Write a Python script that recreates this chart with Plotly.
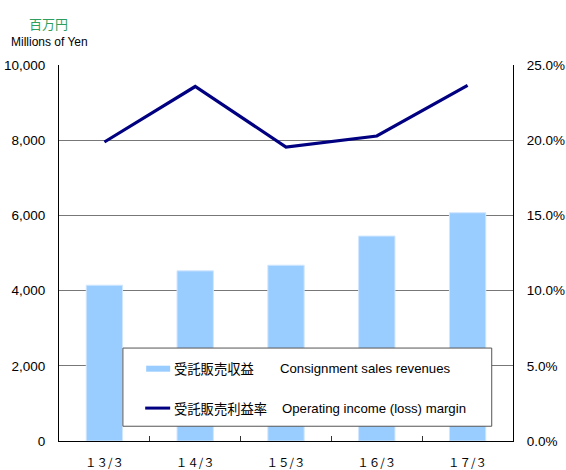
import plotly.graph_objects as go

# ---- data ----
categories = ["１３/３", "１４/３", "１５/３", "１６/３", "１７/３"]
revenues = [4143, 4525, 4675, 5450, 6070]          # 百万円 Millions of Yen
margin_pct = [0.1988, 0.2357, 0.1955, 0.2028, 0.2364]  # ratio
series_jp = ["受託販売収益", "受託販売利益率"]
series_en = ["Consignment sales revenues", "Operating income (loss) margin"]
unit_jp = "百万円"
unit_en = "Millions of Yen"

W, H = 566, 470
L, R, T, B = 58.7, 513.3, 64.5, 441.5
PW, PH = R - L, B - T

def px(x):
    return (x - L) / PW

def py(y):
    return (B - y) / PH

BAR_COLOR = "#99CCFF"
LINE_COLOR = "#000080"
FONT = "Liberation Sans, Arial, Noto Sans CJK JP"
JPFONT = "Noto Sans CJK JP"

fig = go.Figure()
fig.add_trace(go.Bar(
    x=categories, y=revenues, name=series_jp[0], width=0.4,
    marker=dict(color=BAR_COLOR, line=dict(color="#CFE6FF", width=1)),
    showlegend=False,
))
fig.add_trace(go.Scatter(
    x=categories, y=margin_pct, name=series_jp[1], yaxis="y2", mode="lines",
    line=dict(color=LINE_COLOR, width=3.2),
    showlegend=False,
))

shapes = []
annotations = []
# legend box
shapes.append(dict(type="rect", xref="paper", yref="paper",
                   x0=px(122.7), x1=px(492), y0=py(426.7), y1=py(348.3),
                   fillcolor="white", line=dict(color="#555555", width=1), layer="above"))
shapes.append(dict(type="rect", xref="paper", yref="paper",
                   x0=px(146), x1=px(170), y0=py(372), y1=py(366),
                   fillcolor=BAR_COLOR, line=dict(width=0), layer="above"))
shapes.append(dict(type="line", xref="paper", yref="paper",
                   x0=px(145), x1=px(170), y0=py(408.5), y1=py(408.5),
                   line=dict(color=LINE_COLOR, width=3), layer="above"))
for i, yy in enumerate([369, 409]):
    annotations.append(dict(text=series_jp[i], xref="paper", yref="paper",
                            x=px(171.5), y=py(yy), xanchor="left", yanchor="middle",
                            showarrow=False, font=dict(family=JPFONT, size=13.3, color="black")))
    annotations.append(dict(text=series_en[i], xref="paper", yref="paper",
                            x=px(277.5 if i == 0 else 279.5), y=py(yy), xanchor="left", yanchor="middle",
                            showarrow=False, font=dict(family=FONT, size=13.2, color="black")))
# unit labels
annotations.append(dict(text=unit_jp, xref="paper", yref="paper", x=px(48), y=py(22.5),
                        xanchor="center", yanchor="middle", showarrow=False,
                        font=dict(family=JPFONT, size=13, color="#2E9E5E")))
annotations.append(dict(text=unit_en, xref="paper", yref="paper", x=px(8.5), y=py(41),
                        xanchor="left", yanchor="middle", showarrow=False,
                        font=dict(family=FONT, size=12, color="black")))

fig.update_layout(
    width=W, height=H,
    margin=dict(l=L, r=W - R, t=T, b=H - B, pad=0),
    paper_bgcolor="white", plot_bgcolor="white",
    font=dict(family=FONT, size=13.5, color="black"),
    showlegend=False,
    bargap=0.6,
    xaxis=dict(type="category", showline=True, linecolor="black", linewidth=1.2,
               ticks="inside", tickson="boundaries", ticklen=5, tickcolor="#333333",
               showgrid=False, tickfont=dict(family=JPFONT, size=11.5),
               ticklabelstandoff=11, automargin=False),
    yaxis=dict(range=[0, 10000], dtick=2000, tickformat=",", showline=True,
               linecolor="black", linewidth=1.2, showgrid=True, gridcolor="#777777",
               gridwidth=1, zeroline=False, ticks="", ticklabelstandoff=10, automargin=False),
    yaxis2=dict(range=[0, 0.25], dtick=0.05, tickformat=".1%", overlaying="y", side="right",
                showline=True, linecolor="black", linewidth=1.2, showgrid=False,
                zeroline=False, ticks="", ticklabelstandoff=10, automargin=False),
    shapes=shapes, annotations=annotations,
)

fig.write_html("out.html", config={"displayModeBar": False},
               post_script="document.body.style.margin='0';document.body.style.overflow='hidden';")
